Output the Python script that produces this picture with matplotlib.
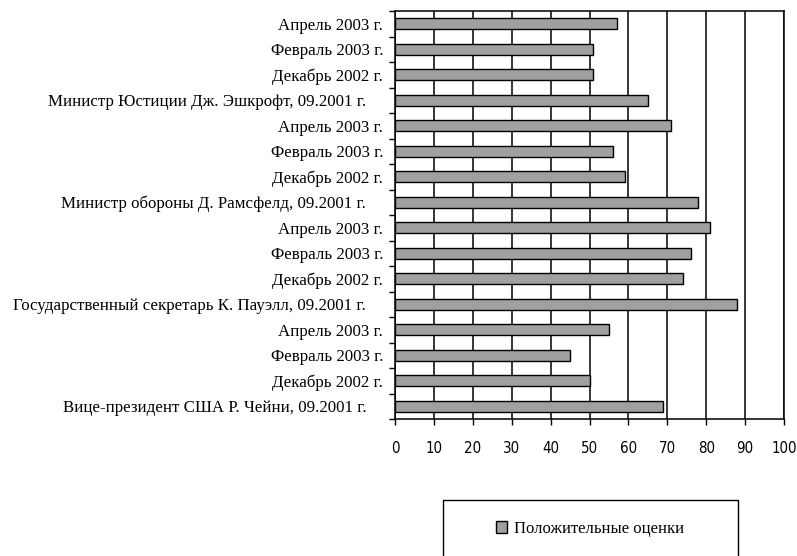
import numpy as np
import matplotlib
matplotlib.use("Agg")
import matplotlib.pyplot as plt
from matplotlib.patches import Rectangle

# Positive ratings, listed bottom-up as they appear on the chart
labels = [
    "Вице-президент США Р. Чейни, 09.2001 г.    ",
    "Декабрь 2002 г.",
    "Февраль 2003 г.",
    "Апрель 2003 г.",
    "Государственный секретарь К. Пауэлл, 09.2001 г.    ",
    "Декабрь 2002 г.",
    "Февраль 2003 г.",
    "Апрель 2003 г.",
    "Министр обороны Д. Рамсфелд, 09.2001 г.    ",
    "Декабрь 2002 г.",
    "Февраль 2003 г.",
    "Апрель 2003 г.",
    "Министр Юстиции Дж. Эшкрофт, 09.2001 г.    ",
    "Декабрь 2002 г.",
    "Февраль 2003 г.",
    "Апрель 2003 г.",
]
values = [69, 50, 45, 55, 88, 74, 76, 81, 78, 59, 56, 71, 65, 51, 51, 57]
xticks = list(range(0, 101, 10))
series_name = "Положительные оценки"

serif = ["Liberation Serif", "DejaVu Serif"]
narrow = ["DejaVu Sans"]

fig = plt.figure(figsize=(7.97, 5.56), dpi=100)
ax = fig.add_axes([395 / 797, 137 / 556, 389 / 797, 408 / 556])

y = np.arange(len(values))
bars = ax.barh(y, values, height=0.43, color="#a0a0a0", edgecolor="black",
               linewidth=1.0, zorder=3, label=series_name)

ax.set_xlim(0, 100)
ax.set_ylim(-0.5, len(values) - 0.5)
ax.set_xticks(xticks)
ax.set_xticklabels([str(t) for t in xticks], family=narrow, fontsize=10.8,
                   fontstretch="condensed")
ax.tick_params(axis="x", direction="out", length=4, width=1, pad=12)
ax.grid(axis="x", color="black", linewidth=1.1, zorder=1)

# category boundaries get the tick marks, centres get the labels
ax.set_yticks(np.arange(-0.5, len(values), 1.0))
ax.set_yticklabels([])
ax.set_yticks(y, minor=True)
ax.set_yticklabels(labels, minor=True, family=serif, fontsize=12.2)
ax.tick_params(axis="y", which="major", direction="out", length=4, width=1)
ax.tick_params(axis="y", which="minor", length=0, pad=8.5)

for s in ax.spines.values():
    s.set_linewidth(1.1)
    s.set_color("black")

# legend box, running off the bottom edge
fig.patches.append(Rectangle((443 / 797, -0.02), 295 / 797, 67 / 556,
                             transform=fig.transFigure, fill=False,
                             edgecolor="black", linewidth=1.0))
fig.legend(handles=[bars], labels=[series_name], loc="center",
           bbox_to_anchor=(590 / 797, 1 - 529 / 556), frameon=False,
           prop={"family": serif, "size": 12}, handlelength=0.7,
           handleheight=0.7, handletextpad=0.4)

fig.savefig("out.png", dpi=100)
